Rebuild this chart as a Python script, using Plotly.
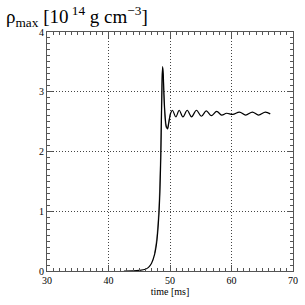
import plotly.graph_objects as go

time_black = [42.5, 44.0, 45.0, 46.0, 46.5, 47.0, 47.5, 47.8, 48.0, 48.2, 48.35, 48.5, 48.6,
              48.7, 48.8, 48.9, 49.0, 49.2, 49.4, 49.6, 49.8, 50.1, 50.4, 50.95, 51.5, 52.1,
              52.8, 53.5, 54.3, 55.1, 55.9, 56.7, 57.6, 58.4, 59.2, 60.2, 61.3, 62.3, 63.4,
              64.4, 65.5, 66.3]
rho_black = [0.0, 0.002, 0.01, 0.03, 0.06, 0.13, 0.28, 0.45, 0.65, 0.95, 1.3, 1.9, 2.5,
             3.1, 3.42, 3.3, 3.0, 2.6, 2.42, 2.38, 2.48, 2.64, 2.69, 2.58, 2.69, 2.58,
             2.69, 2.58, 2.69, 2.59, 2.68, 2.60, 2.67, 2.61, 2.64, 2.62, 2.66, 2.61, 2.66,
             2.61, 2.66, 2.63]

time_gray = [47.5, 47.8, 48.0, 48.2, 48.35, 48.5, 48.6, 48.7, 48.8, 48.9, 49.0, 49.2, 49.4,
             49.6, 49.8, 50.1]
rho_gray = [0.3, 0.5, 0.72, 1.05, 1.45, 2.05, 2.65, 3.2, 3.4, 3.25, 2.95, 2.55, 2.4,
            2.4, 2.5, 2.65]

x_ticks = [30, 40, 50, 60, 70]
y_ticks = [0, 1, 2, 3, 4]

fig = go.Figure()
fig.add_trace(go.Scatter(x=time_gray, y=rho_gray, mode="lines",
                         line=dict(color="#888888", width=1.2, shape="spline"),
                         showlegend=False))
fig.add_trace(go.Scatter(x=time_black, y=rho_black, mode="lines",
                         line=dict(color="black", width=1.2, shape="spline"),
                         showlegend=False))

font = dict(family="Liberation Serif, Times New Roman, serif", color="black")
axis_common = dict(
    showline=True, linecolor="#555555", linewidth=1, mirror="allticks",
    ticks="inside", ticklen=6, tickcolor="#555555", tickwidth=1,
    showgrid=True, gridcolor="#444444", griddash="1px,2px", gridwidth=1,
    zeroline=False, tickfont=dict(size=10, **font), ticklabeloverflow="allow",
)
fig.update_xaxes(range=[30, 70], tickvals=x_ticks,
                 minor=dict(dtick=1, ticks="inside", ticklen=3, tickcolor="#555555", showgrid=False),
                 title=dict(text="time [ms]", font=dict(size=10, **font), standoff=2),
                 **axis_common)
fig.update_yaxes(range=[0, 4], tickvals=y_ticks,
                 minor=dict(dtick=0.1, ticks="inside", ticklen=3, tickcolor="#555555", showgrid=False),
                 **axis_common)

fig.add_annotation(text="ρ<sub>max</sub> [10<sup> 14</sup> g cm<sup>−3</sup>]",
                   xref="paper", yref="paper", x=-0.175, y=1.13,
                   xanchor="left", yanchor="top", showarrow=False,
                   font=dict(size=19, **font))

fig.update_layout(width=305, height=305, margin=dict(l=47, r=7, t=32, b=34),
                  plot_bgcolor="white", paper_bgcolor="white")
fig.write_html("out.html", config={"displayModeBar": False},
               post_script="document.body.style.margin='0';")
